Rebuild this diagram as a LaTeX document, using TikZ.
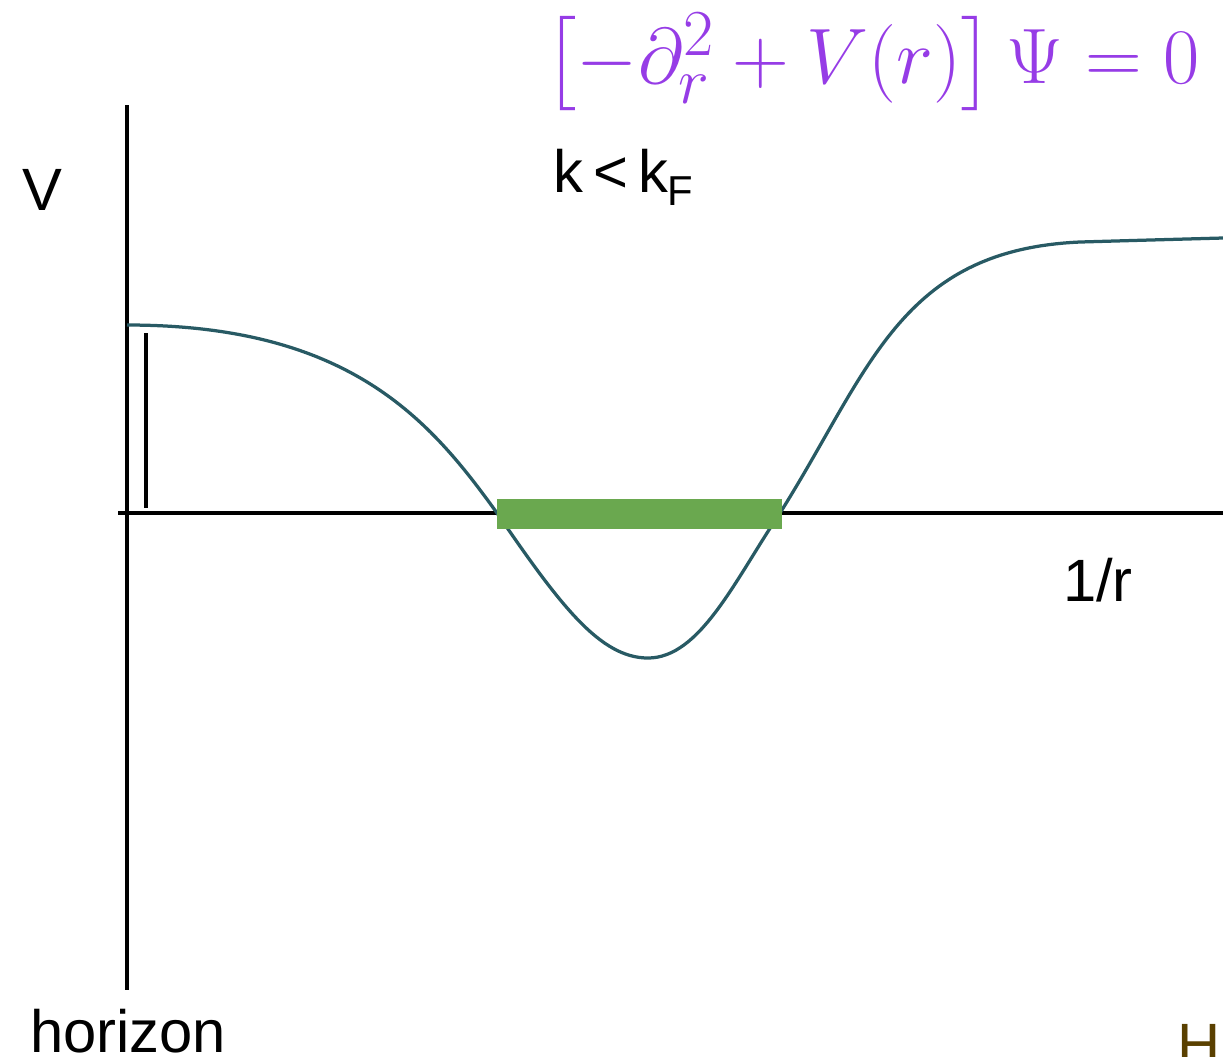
\documentclass[tikz,border=0pt]{standalone}
\usepackage{fontspec}
\setmainfont{Liberation Sans}
\usepackage{amsmath}
\usepackage{graphicx}
\usepackage{tikz}
\usetikzlibrary{positioning, calc}
\definecolor{eqpurple}{RGB}{150,60,230}
\definecolor{curveteal}{RGB}{40,90,100}
\definecolor{bargreen}{RGB}{106,168,79}
\definecolor{hbrown}{RGB}{90,64,0}

\begin{document}
\begin{tikzpicture}[x=0.02cm, y=-0.02cm,
        axis/.style={line width=0.07cm, black},
        curve/.style={line width=0.065cm, curveteal},
        band/.style={line width=0.6cm, bargreen},
        lbl/.style={inner sep=0pt, font=\fontsize{34}{37}\selectfont}
    ]
        \useasboundingbox (0,0) rectangle (1223,1056);
        \clip (0,0) rectangle (1223,1056);

        % axes
        \coordinate (vtop) at (127,105);
        \coordinate (vbot) at (127,990);
        \coordinate (hleft) at (118,513);
        \coordinate (hright) at (1223,513);
        \draw[axis] (vtop) -- (vbot);
        \draw[axis] (hleft) -- (hright);

        % short marker next to the axis
        \coordinate (mtop) at (146,333);
        \coordinate (mbot) at (146,508);
        \draw[axis] (mtop) -- (mbot);

        % potential
        \draw[curve] (127,325) .. controls (350,325) and (430,420) .. (497,513)
            .. controls (560,605) and (600,658) .. (648,658)
            .. controls (700,658) and (735,580) .. (780,513)
            .. controls (870,370) and (900,250) .. (1080,242)
            .. controls (1150,240) .. (1223,238);

        % allowed region
        \coordinate (bl) at (497,514);
        \coordinate (br) at (782,514);
        \draw[band] (bl) -- (br);

        % labels
        \node[inner sep=0pt, text=eqpurple, font=\Huge] (eq) at (872,62)
            {\scalebox{1.8}{$\left[-\partial_r^2+V(r)\right]\Psi=0$}};
        \node[lbl] (vlab) at (42,190) {V};
        \node[lbl, anchor=base west] (klab) at (553,192) {k\,<\,k\textsubscript{F}};
        \node[lbl] (rlab) at (1098,580) {1/r};
        \node[lbl, anchor=base] (hor) at (128,1052) {horizon};
        \node[lbl, anchor=base, text=hbrown] (hlab) at (1199,1065) {H};

    \end{tikzpicture}
\end{document}
